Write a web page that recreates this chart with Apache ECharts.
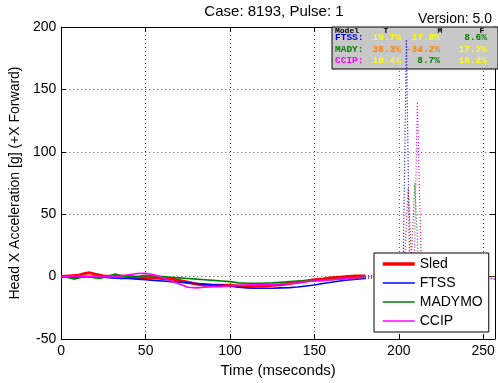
<!DOCTYPE html>
<html><head><meta charset="utf-8">
<script src="https://cdn.jsdelivr.net/npm/echarts@6/dist/echarts.min.js"></script>
<style>html,body{margin:0;padding:0;background:#fff}#c{width:498px;height:383px}</style>
</head><body><div id="c"></div>
<script>
// ---- data ----
const titleText = 'Case: 8193, Pulse: 1';
const versionText = 'Version: 5.0';
const xName = 'Time (mseconds)';
const yName = 'Head X Acceleration [g] (+X Forward)';
const seriesNames = ['Sled', 'FTSS', 'MADYMO', 'CCIP'];
const seriesColors = ['#ff0000', '#0000ff', '#008000', '#ff00ff'];

const sledSolid = [[0,0],[5,0.5],[10,1],[14,2.5],[17,3],[20,2],[25,0.5],[30,0],[35,0.5],[40,0],[45,-0.5],[50,-1],[55,-1],[60,-1.5],[65,-2],[70,-3],[75,-4.5],[80,-6],[85,-7],[90,-7],[95,-7],[100,-7],[105,-7.5],[110,-7.5],[115,-7.5],[120,-7.5],[125,-7],[130,-6.5],[135,-5.5],[140,-4.5],[145,-3.5],[150,-2.5],[155,-2],[160,-1],[165,-0.5],[170,0],[175,0.5],[180,0.5]];
const ftssSolid = [[0,0],[5,-0.5],[10,-0.5],[15,0],[20,0],[25,-0.5],[30,-1],[35,-1.5],[40,-1.5],[45,-2],[50,-2.5],[55,-3],[60,-3.5],[65,-4],[70,-4.5],[75,-5],[80,-5.5],[85,-6],[90,-6.5],[95,-7],[100,-7.5],[105,-8.5],[110,-9],[115,-9.3],[120,-9.3],[125,-9.3],[130,-9],[135,-8.8],[140,-8.3],[145,-7.5],[150,-6.7],[155,-5.5],[160,-4.5],[165,-3.5],[170,-2.7],[175,-2],[180,-1.5]];
const madySolid = [[0,0],[3,-0.5],[8,-2],[12,-0.5],[16,0],[20,-1],[23,-1.5],[27,0],[32,2],[36,0.5],[40,0],[45,0],[50,1],[55,0.5],[60,0],[65,-0.5],[70,-1],[75,-1.5],[80,-2],[85,-2.5],[90,-3],[95,-3.5],[100,-4],[105,-5],[110,-5.3],[115,-5.3],[120,-5.3],[125,-5],[130,-4.5],[135,-4],[140,-3.5],[145,-3.5],[150,-3.5],[155,-3],[160,-2.5],[165,-2],[170,-1.3],[175,-1],[180,-0.5]];
const ccipSolid = [[0,0],[5,0],[10,0.5],[15,0],[20,0],[25,0],[30,0],[35,0.5],[40,1.5],[45,2.5],[50,2.7],[55,1.5],[60,-1],[65,-3.5],[70,-6],[75,-8.5],[80,-9],[85,-8.5],[90,-8],[95,-8],[100,-7.5],[105,-7],[110,-6.7],[115,-6.5],[120,-6.5],[125,-6.3],[130,-6],[135,-5.5],[140,-5],[145,-4],[150,-3.5],[155,-3],[160,-2.5],[165,-2],[170,-1.5],[175,-1],[180,-0.5]];

const sledDotted = [[180,0.5],[185,1],[190,0],[195,1],[200,0],[203,0],[205.5,71],[208,-1],[210,0],[220,0],[230,0],[240,0],[250,0],[257,0]];
const ftssDotted = [[180,-1.5],[185,-1],[190,-1],[195,0],[200,0],[202.5,0],[204.5,190],[206.5,-2],[208,0],[220,-1],[230,-1],[240,-1],[250,-1],[257,-2]];
const madyDotted = [[180,-0.5],[185,0],[190,0],[195,0.5],[200,0],[207,0],[209.5,75],[212,-1],[214,0],[220,0],[230,0],[240,0],[250,0],[257,0]];
const ccipDotted = [[180,-0.5],[185,0],[190,0.5],[195,0],[200,0],[209,0],[211,140],[213.5,-2],[215,0],[220,0],[230,0],[240,-1],[250,-1],[257,-2]];

const tableHeader = ['Model', 'T', 'M', 'F'];
const tableRows = ['FTSS:', 'MADY:', 'CCIP:'];
const tableRowColors = ['#0000ff', '#008000', '#ff00ff'];
const tableValues = [['19.7%', '17.8%', '8.6%'], ['38.3%', '-34.2%', '17.2%'], ['18.4%', '8.7%', '16.2%']];
const tableValueColors = [['#ffff00', '#ffff00', '#008000'], ['#ff8000', '#ff8000', '#ffff00'], ['#ffff00', '#008000', '#ffff00']];

const xTicks = {min: 0, max: 257, step: 50};
const yTicks = {min: -50, max: 200, step: 50};

// ---- chart ----
const F = 'Liberation Sans, Arial, sans-serif';
const M = 'Liberation Mono, Courier New, monospace';
const chart = echarts.init(document.getElementById('c'));

const solid = [sledSolid, ftssSolid, madySolid, ccipSolid];
const dotted = [sledDotted, ftssDotted, madyDotted, ccipDotted];
const widths = [3, 1.6, 1.6, 1.6];
const series = [];
dotted.forEach((d, i) => series.push({
  name: seriesNames[i] + ' (dotted)', type: 'line', data: d, symbol: 'none', z: 3,
  lineStyle: {color: seriesColors[i], width: 1.2, type: [1, 2]}, itemStyle: {color: seriesColors[i]}, silent: true, animation: false
}));
solid.forEach((d, i) => series.push({
  name: seriesNames[i], type: 'line', data: d, symbol: 'none', z: 4,
  lineStyle: {color: seriesColors[i], width: widths[i]}, itemStyle: {color: seriesColors[i]}, animation: false
}));

const grid = {left: 58, right: 3, top: 27, bottom: 44};
const graphics = [];
graphics.push({type: 'text', x: 274, y: 12, style: {text: titleText, font: '15px ' + F, fill: '#000', textAlign: 'center', textVerticalAlign: 'middle'}, z: 10});
graphics.push({type: 'text', x: 492, y: 19.5, style: {text: versionText, font: '14px ' + F, fill: '#000', textAlign: 'right', textVerticalAlign: 'middle'}, z: 10});
// table box
graphics.push({type: 'rect', shape: {x: 332, y: 27, width: 166, height: 42}, style: {fill: '#c8c8c8', stroke: '#000', lineWidth: 1}, z: 1, zlevel: 0});
const hdrX = [335, 386, 440, 482];
tableHeader.forEach((h, j) => graphics.push({type: 'text', x: hdrX[j], y: 27, style: {text: h, font: 'bold 8px ' + M, fill: '#000', textAlign: j === 0 ? 'left' : 'center', textVerticalAlign: 'top'}, z: 1}));
const colRight = [401, 440, 487];
const rowY = [38, 50, 61];
tableRows.forEach((r, i) => {
  graphics.push({type: 'text', x: 335, y: rowY[i], style: {text: r, font: 'bold 9.5px ' + M, fill: tableRowColors[i], textAlign: 'left', textVerticalAlign: 'middle'}, z: 1});
  tableValues[i].forEach((v, j) => graphics.push({type: 'text', x: colRight[j], y: rowY[i], style: {text: v, font: 'bold 9.5px ' + M, fill: tableValueColors[i][j], textAlign: 'right', textVerticalAlign: 'middle'}, z: 1}));
});

const splitLine = {show: true, lineStyle: {color: '#555', type: [1, 3], width: 1}};
chart.setOption({
  animation: false,
  backgroundColor: '#fff',
  grid: grid,
  legend: {
    data: seriesNames.map((n, i) => ({name: n, lineStyle: {width: i === 0 ? 3.5 : 1.5, color: seriesColors[i]}})),
    orient: 'vertical', left: 374, top: 253,
    backgroundColor: '#fff', borderColor: '#000', borderWidth: 1,
    padding: [4, 6, 4, 7], itemWidth: 32, itemHeight: 12, itemGap: 5,
    itemStyle: {opacity: 0},
    textStyle: {fontFamily: F, fontSize: 14, color: '#000'}, z: 20, selectedMode: false
  },
  xAxis: [{
    type: 'value', min: xTicks.min, max: xTicks.max, interval: xTicks.step,
    name: xName, nameLocation: 'middle', nameGap: 22, nameTextStyle: {fontFamily: F, fontSize: 15, color: '#000'},
    axisLine: {show: true, onZero: false, lineStyle: {color: '#000', width: 1}},
    axisTick: {show: true, inside: true, length: 5, lineStyle: {color: '#000'}},
    axisLabel: {fontFamily: F, fontSize: 14, color: '#000', margin: 5, showMaxLabel: false,
      formatter: v => (v % xTicks.step === 0 ? String(v) : '')},
    splitLine: splitLine
  }, {
    type: 'value', position: 'top', min: xTicks.min, max: xTicks.max, interval: xTicks.step,
    axisLine: {show: true, onZero: false, lineStyle: {color: '#000', width: 1}},
    axisTick: {show: true, inside: true, length: 5, lineStyle: {color: '#000'}},
    axisLabel: {show: false}, splitLine: {show: false}
  }],
  yAxis: [{
    type: 'value', min: yTicks.min, max: yTicks.max, interval: yTicks.step,
    name: yName, nameLocation: 'middle', nameGap: 36, nameRotate: 90, nameTextStyle: {fontFamily: F, fontSize: 14, color: '#000'},
    axisLine: {show: true, onZero: false, lineStyle: {color: '#000', width: 1}},
    axisTick: {show: true, inside: true, length: 5, lineStyle: {color: '#000'}},
    axisLabel: {fontFamily: F, fontSize: 14, color: '#000', margin: 5},
    splitLine: splitLine
  }, {
    type: 'value', position: 'right', min: yTicks.min, max: yTicks.max, interval: yTicks.step,
    axisLine: {show: true, onZero: false, lineStyle: {color: '#000', width: 1}},
    axisTick: {show: true, inside: true, length: 5, lineStyle: {color: '#000'}},
    axisLabel: {show: false}, splitLine: {show: false}
  }],
  series: series,
  graphic: graphics
});
</script>
</body></html>
